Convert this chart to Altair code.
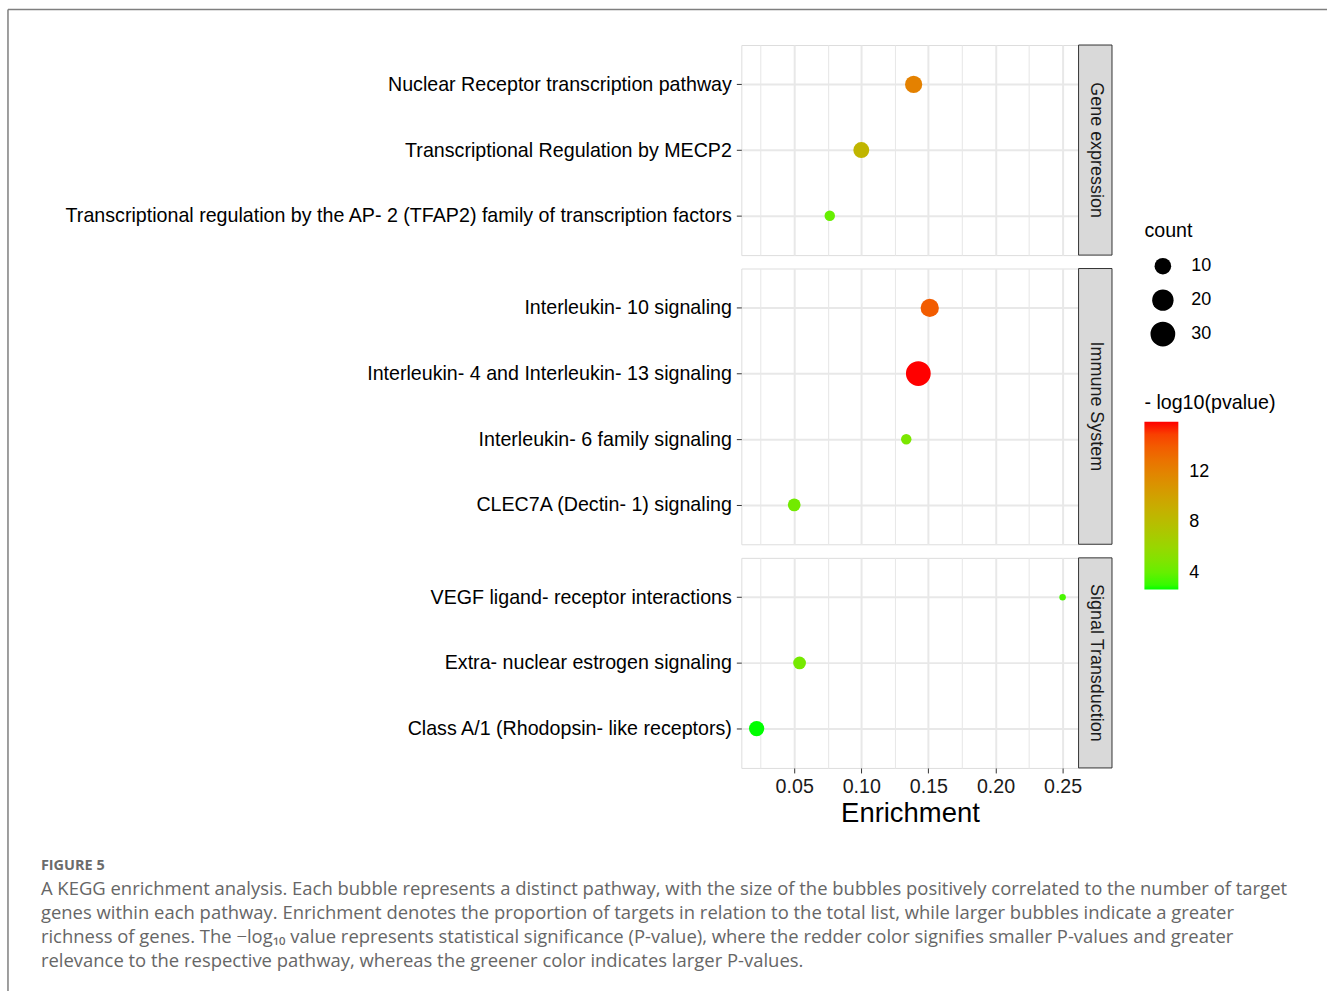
import altair as alt
import pandas as pd

# ---------------- data ----------------
pathways = [
    "Nuclear Receptor transcription pathway",
    "Transcriptional Regulation by MECP2",
    "Transcriptional regulation by the AP- 2 (TFAP2) family of transcription factors",
    "Interleukin- 10 signaling",
    "Interleukin- 4 and Interleukin- 13 signaling",
    "Interleukin- 6 family signaling",
    "CLEC7A (Dectin- 1) signaling",
    "VEGF ligand- receptor interactions",
    "Extra- nuclear estrogen signaling",
    "Class A/1 (Rhodopsin- like receptors)",
]
groups = [
    "Gene expression", "Gene expression", "Gene expression",
    "Immune System", "Immune System", "Immune System", "Immune System",
    "Signal Transduction", "Signal Transduction", "Signal Transduction",
]
enrichment = [0.139, 0.100, 0.0765, 0.151, 0.1425, 0.1335, 0.050, 0.250, 0.054, 0.022]
counts = [11, 9, 3, 13, 30, 3, 5, 1, 5, 8]
neg_log10_p = [12.1, 8.6, 4.0, 14.0, 16.0, 4.7, 4.4, 3.3, 4.5, 2.65]

panel_order = ["Gene expression", "Immune System", "Signal Transduction"]
x_tick_values = [0.025, 0.05, 0.075, 0.10, 0.125, 0.15, 0.175, 0.20, 0.225, 0.25]
size_legend_values = [10, 20, 30]
color_legend_values = [4, 8, 12]

figure_label = "FIGURE 5"
caption_lines = [
    "A KEGG enrichment analysis. Each bubble represents a distinct pathway, with the size of the bubbles positively correlated to the number of target",
    "genes within each pathway. Enrichment denotes the proportion of targets in relation to the total list, while larger bubbles indicate a greater",
    "richness of genes. The \u2212log\u2081\u2080 value represents statistical significance (P-value), where the redder color signifies smaller P-values and greater",
    "relevance to the respective pathway, whereas the greener color indicates larger P-values.",
]

df = pd.DataFrame({
    "pathway": pathways,
    "group": groups,
    "Enrichment": enrichment,
    "count": counts,
    "nlp": neg_log10_p,
})

FONT = "Liberation Sans"
CAP_FONT = "Open Sans"
PANEL_W = 338
STEP = 65.8
LBL = 19.7

major = "abs(datum.value*20 - round(datum.value*20)) < 0.001"

x_scale = alt.Scale(domain=[0.0106, 0.2619], nice=False, zero=False)
size_scale = alt.Scale(type="pow", exponent=0.7, domain=[1, 30], range=[42, 616])
color_scale = alt.Scale(domain=[2.65, 16.0], range=["#00FF00", "#FF0000"], interpolate="lab")

size_legend = alt.Legend(
    title="count", orient="none", legendX=404, legendY=176,
    values=size_legend_values, symbolFillColor="#000000", symbolStrokeWidth=0,
    symbolOpacity=1, symbolType="circle", titleFontSize=LBL, labelFontSize=18,
    titleFontWeight="normal", titleColor="#000000", labelColor="#000000",
    labelOffset=16, symbolOffset=6, clipHeight=34, rowPadding=0,
    titlePadding=9, padding=0, titleFont=FONT, labelFont=FONT,
)
color_legend = alt.Legend(
    title="- log10(pvalue)", orient="none", legendX=404, legendY=349,
    values=color_legend_values, gradientLength=168, gradientThickness=34,
    titleFontSize=LBL, labelFontSize=18, titleFontWeight="normal",
    titleColor="#000000", labelColor="#000000", labelOffset=11,
    titlePadding=9, padding=0, gradientStrokeWidth=0,
    titleFont=FONT, labelFont=FONT,
)

one_row = pd.DataFrame({"k": [0]})


def make_panel(grp, bottom):
    sub = df[df["group"] == grp]
    order = list(sub["pathway"])
    h = STEP * (len(order) - 1 + 1.2)
    grid_w = {"condition": {"test": major, "value": 2}, "value": 1.1}
    if bottom:
        xaxis = alt.Axis(
            values=x_tick_values,
            labelExpr=f"{major} ? format(datum.value, '.2f') : ''",
            tickOpacity={"condition": {"test": major, "value": 1}, "value": 0},
            gridWidth=grid_w, gridColor="#E8E8E8", domain=False, title="Enrichment",
            titleFontSize=27.5, titleFontWeight="normal", titleColor="#000000",
            labelFontSize=LBL, labelColor="#1A1A1A", tickColor="#333333",
            tickSize=5, labelPadding=4, titlePadding=3, labelFlush=False,
            labelFont=FONT, titleFont=FONT,
        )
    else:
        xaxis = alt.Axis(
            values=x_tick_values, labels=False, ticks=False, domain=False,
            title=None, gridColor="#E8E8E8", gridWidth=grid_w,
        )
    yaxis = alt.Axis(
        title=None, labelFontSize=LBL, labelColor="#000000", labelFont=FONT,
        tickColor="#333333", tickSize=5, domain=False, grid=True,
        gridColor="#E8E8E8", gridWidth=2, labelPadding=5, labelLimit=900,
    )
    pts = alt.Chart(sub).mark_circle(opacity=1).encode(
        x=alt.X("Enrichment:Q", scale=x_scale, axis=xaxis),
        y=alt.Y("pathway:N", sort=order, scale=alt.Scale(padding=0.6), axis=yaxis),
        size=alt.Size("count:Q", scale=size_scale, legend=size_legend),
        color=alt.Color("nlp:Q", scale=color_scale, legend=color_legend),
    )
    strip_df = pd.DataFrame({"label": [grp]})
    strip_rect = alt.Chart(strip_df).mark_rect(
        fill="#D9D9D9", stroke="#333333", strokeWidth=1
    ).encode(x=alt.value(PANEL_W), x2=alt.value(PANEL_W + 33.5),
             y=alt.value(0), y2=alt.value(h))
    strip_text = alt.Chart(strip_df).mark_text(
        angle=90, fontSize=18, font=FONT, color="#1A1A1A",
        align="center", baseline="middle",
    ).encode(x=alt.value(PANEL_W + 17), y=alt.value(h / 2), text="label:N")
    layers = [pts, strip_rect, strip_text]
    if bottom:
        border_top = alt.Chart(one_row).mark_rule(color="#7F7F7F", strokeWidth=1.5).encode(
            x=alt.value(-735), x2=alt.value(587), y=alt.value(-549.5), y2=alt.value(-549.5))
        border_left = alt.Chart(one_row).mark_rule(color="#7F7F7F", strokeWidth=1.5).encode(
            x=alt.value(-735), x2=alt.value(-735), y=alt.value(-549.5), y2=alt.value(434))
        fig_lbl = alt.Chart(one_row).mark_text(
            align="left", baseline="middle", fontSize=14.5, font=CAP_FONT,
            color="#6B6B6B", fontWeight="bold",
        ).encode(x=alt.value(-702), y=alt.value(309), text=alt.value(figure_label))
        cap = alt.Chart(one_row).mark_text(
            align="left", baseline="top", fontSize=18.5, lineHeight=24,
            font=CAP_FONT, color="#666666",
        ).encode(x=alt.value(-702), y=alt.value(323), text=alt.value(caption_lines))
        layers += [border_top, border_left, fig_lbl, cap]
    return alt.layer(*layers).properties(width=PANEL_W, height=h)


panels = [make_panel(g, i == len(panel_order) - 1) for i, g in enumerate(panel_order)]

chart = alt.vconcat(*panels, spacing=13, bounds="flush").properties(
    padding={"left": 6, "top": 7, "right": 0, "bottom": 0}
).configure_view(
    stroke="#333333", strokeWidth=1
).configure(
    background="white"
)

chart.save("out.html", embed_options={"renderer": "svg", "actions": False})
